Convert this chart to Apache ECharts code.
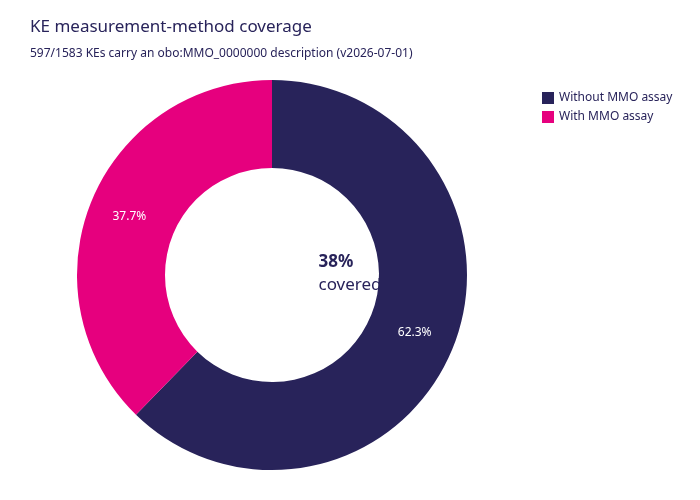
<!DOCTYPE html>
<html>
<head>
<meta charset="utf-8">
<script src="https://cdn.jsdelivr.net/npm/echarts@6/dist/echarts.min.js"></script>
<style>html,body{margin:0;padding:0;background:#fff}#main{width:700px;height:500px}</style>
</head>
<body>
<div id="main"></div>
<script>
var categories = ['Without MMO assay', 'With MMO assay'];
var counts = [986, 597];
var colors = ['#28235a', '#e6007e'];

var chart = echarts.init(document.getElementById('main'));
chart.setOption({
  animation: false,
  textStyle: { fontFamily: 'Noto Sans' },
  title: {
    text: 'KE measurement-method coverage',
    subtext: '597/1583 KEs carry an obo:MMO_0000000 description (v2026-07-01)',
    left: 25, top: 14,
    textStyle: { color: '#28235a', fontSize: 17, fontWeight: 'normal' },
    subtextStyle: { color: '#28235a', fontSize: 12 },
    itemGap: 12
  },
  legend: {
    orient: 'vertical', left: 537, top: 87,
    icon: 'rect', itemWidth: 12, itemHeight: 12, itemGap: 7,
    textStyle: { color: '#28235a', fontSize: 12 },
    data: categories
  },
  graphic: [{
    type: 'text', left: 'center', top: 254, x: 0,
    style: {
      x: 272, text: '{a|38%}\n{b|covered}', align: 'center',
      rich: {
        a: { fontSize: 17, fontWeight: 'bold', fill: '#28235a', lineHeight: 23, fontFamily: 'Noto Sans' },
        b: { fontSize: 17, fill: '#28235a', lineHeight: 23, fontFamily: 'Noto Sans' }
      }
    },
    position: [0, 0]
  }],
  series: [{
    type: 'pie',
    center: [272, 275],
    radius: [107, 195],
    startAngle: 90,
    label: {
      position: 'inside', color: '#fff', fontSize: 12,
      formatter: function (p) { return p.percent.toFixed(1) + '%'; }
    },
    itemStyle: { borderColor: '#fff', borderWidth: 0 },
    data: categories.map(function (c, i) {
      return { name: c, value: counts[i], itemStyle: { color: colors[i] } };
    })
  }]
});
</script>
</body>
</html>
